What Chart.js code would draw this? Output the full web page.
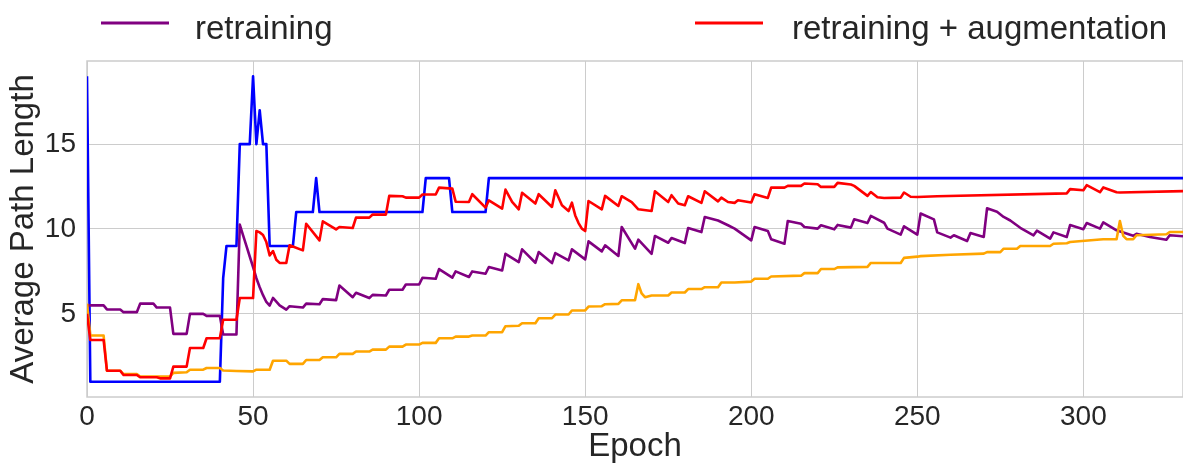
<!DOCTYPE html>
<html>
<head>
<meta charset="utf-8">
<script src="https://cdn.jsdelivr.net/npm/chart.js@4.4.1/dist/chart.umd.min.js"></script>
<style>
html,body{margin:0;padding:0;background:#ffffff;}
#wrap{position:relative;width:1183px;height:470px;}
</style>
</head>
<body>
<div id="wrap"><canvas id="c" width="1183" height="470"></canvas></div>
<script>
// ---- data ----
const xTicks = [0, 50, 100, 150, 200, 250, 300];
const yTicks = [5, 10, 15];
const xTitle = 'Epoch';
const yTitle = 'Average Path Length';

const labelPurple = 'retraining';
const labelRed = 'retraining + augmentation';

const epochsBlue = [0,1,40,41,42,45,46,49,50,51,52,53,54,55,62,63,68,69,70,101,102,109,110,120,121,330];
const valuesBlue = [19,1,1,7.1,9,9,15,15,19,15,17,15,15,9,9,11,11,13,11,11,13,13,11,11,13,13];

const epochsPurple = [0,5,6,10,11,15,16,20,21,25,26,30,31,35,36,40,41,45,46,47,48,49,50,51,52,53,54,55,56,58,60,61,65,66,70,71,75,76,80,81,85,86,90,91,95,96,100,101,105,106,110,111,115,116,120,121,125,126,130,131,135,136,140,141,145,146,150,151,155,156,160,161,165,166,170,171,175,176,180,181,185,186,190,193,195,200,201,205,206,210,211,215,216,220,221,225,226,230,231,235,236,240,241,245,246,250,251,255,256,260,261,265,266,270,271,274,276,278,281,285,286,290,291,295,296,300,301,305,306,310,315,316,320,325,326,330];
const valuesPurple = [5.5,5.5,5.26,5.26,5.1,5.1,5.6,5.6,5.37,5.37,3.82,3.82,5.0,5.0,4.88,4.88,3.78,3.78,10.26,9.63,9.0,8.38,7.76,7.1,6.57,6.1,5.7,5.49,5.94,5.5,5.25,5.45,5.37,5.6,5.57,5.87,5.81,6.67,5.98,6.24,5.93,6.12,6.08,6.42,6.42,6.73,6.73,7.13,7.07,7.64,7.13,7.5,7.17,7.5,7.36,7.76,7.56,8.54,8.05,8.8,8.01,8.64,7.99,8.58,8.15,8.8,8.21,9.27,8.68,9.04,8.41,10.12,8.84,9.37,8.54,9.59,9.19,9.47,9.17,10.06,9.82,10.71,10.5,10.22,10.02,9.33,10.12,9.88,9.39,9.13,10.47,10.31,10.12,10.02,10.22,9.98,10.24,10.08,10.57,10.35,10.77,10.37,10.02,9.67,10.16,9.67,10.91,10.57,9.8,9.49,9.63,9.29,9.76,9.53,11.22,11.02,10.71,10.5,10.07,9.63,9.9,9.43,9.8,9.53,10.23,9.99,10.35,10.02,10.39,9.92,9.6,9.72,9.53,9.37,9.63,9.57];

const epochsOrange = [0,1,5,6,10,11,15,16,25,26,30,31,35,36,40,41,45,50,51,55,56,60,61,65,66,70,71,75,76,80,81,85,86,90,91,95,96,100,101,105,106,110,111,115,116,120,121,125,126,130,131,135,136,140,141,145,146,150,151,155,156,160,161,165,166,167,168,170,175,176,180,181,185,186,190,191,195,200,201,205,206,215,216,220,221,225,226,235,236,245,246,250,251,260,270,271,275,276,280,281,290,291,295,296,305,306,310,311,312,313,315,316,325,326,330];
const valuesOrange = [5.6,3.72,3.72,1.65,1.65,1.45,1.45,1.3,1.3,1.52,1.56,1.71,1.71,1.81,1.81,1.66,1.63,1.61,1.71,1.71,2.24,2.24,2.05,2.05,2.28,2.28,2.44,2.44,2.64,2.64,2.78,2.78,2.89,2.89,3.07,3.07,3.19,3.19,3.29,3.29,3.56,3.56,3.66,3.66,3.72,3.72,3.92,3.92,4.27,4.3,4.45,4.45,4.74,4.74,4.96,4.96,5.2,5.2,5.43,5.45,5.57,5.59,5.8,5.8,6.75,6.2,5.98,6.08,6.08,6.26,6.26,6.46,6.46,6.57,6.57,6.85,6.85,6.9,7.07,7.07,7.2,7.25,7.4,7.4,7.64,7.64,7.74,7.77,8.0,8.0,8.3,8.37,8.4,8.48,8.55,8.64,8.64,8.84,8.84,9.0,9.0,9.13,9.16,9.23,9.38,9.4,9.4,10.47,9.6,9.4,9.4,9.63,9.69,9.82,9.82];

const epochsRed = [0,1,5,6,10,11,15,16,21,22,25,26,30,31,35,36,40,41,45,46,50,51,52,53,54,55,56,57,58,60,61,65,66,70,71,75,76,80,81,85,86,90,91,95,96,100,101,105,106,110,111,115,116,120,121,125,126,128,130,131,135,136,140,141,143,145,146,147,148,149,150,151,155,156,160,161,164,166,170,171,175,176,178,180,181,185,186,190,191,193,195,196,200,201,205,206,210,211,215,216,220,221,225,226,230,231,235,236,238,240,245,246,248,250,256,295,296,300,301,305,306,310,311,330];
const valuesRed = [5.0,3.46,3.46,1.65,1.65,1.4,1.4,1.26,1.26,1.2,1.2,1.89,1.89,2.99,2.99,3.56,3.56,4.65,4.65,5.93,5.93,9.88,9.8,9.65,9.23,8.44,8.7,8.19,8.0,8.0,9.04,8.74,10.31,9.33,10.45,9.98,10.12,10.06,10.67,10.67,10.85,10.85,11.95,11.93,11.85,11.85,12.03,12.03,12.44,12.38,11.61,11.59,12.05,11.26,11.69,11.2,12.32,11.6,11.16,12.13,11.5,12.05,11.3,12.28,11.4,11.06,11.55,10.8,10.35,10.02,9.88,11.65,11.16,11.95,11.36,11.93,11.59,11.16,11.06,12.22,11.59,11.99,11.5,11.4,11.93,11.54,12.22,11.63,11.85,11.59,11.54,11.69,11.56,12.05,11.83,12.44,12.44,12.54,12.54,12.68,12.64,12.48,12.48,12.72,12.62,12.54,11.95,12.18,11.87,11.83,11.85,12.15,11.9,11.89,11.93,12.1,12.35,12.28,12.58,12.17,12.45,12.17,12.15,12.23];

function pairs(xs, ys) { return xs.map((x, i) => ({x: x, y: ys[i]})); }

const FONT = "'Liberation Sans', Arial, sans-serif";
const TEXT = '#262626';
const GRID = '#cccccc';

// legend drawn on canvas at the top (only the labelled series are shown)
const topLegend = {
  id: 'topLegend',
  afterDraw(chart) {
    const ctx = chart.ctx;
    const slots = [{lineX: 101, textX: 195}, {lineX: 695, textX: 792}];
    const shown = chart.data.datasets.filter(d => d.label);
    ctx.save();
    shown.forEach((ds, i) => {
      const s = slots[i];
      ctx.strokeStyle = ds.borderColor;
      ctx.lineWidth = 3;
      ctx.beginPath();
      ctx.moveTo(s.lineX, 23);
      ctx.lineTo(s.lineX + 68, 23);
      ctx.stroke();
      ctx.fillStyle = TEXT;
      ctx.font = '33px ' + FONT;
      ctx.textBaseline = 'alphabetic';
      ctx.textAlign = 'left';
      ctx.fillText(ds.label, s.textX, 39);
    });
    ctx.restore();
  }
};

// light grey frame on all four sides of the plot
const frame = {
  id: 'frame',
  beforeDatasetsDraw(chart) {
    const a = chart.chartArea, ctx = chart.ctx;
    ctx.save();
    ctx.strokeStyle = GRID;
    ctx.lineWidth = 1.5;
    ctx.strokeRect(a.left, a.top, a.right - a.left, a.bottom - a.top);
    ctx.restore();
  }
};

new Chart(document.getElementById('c'), {
  type: 'line',
  data: {
    datasets: [
      {label: '', data: pairs(epochsBlue, valuesBlue), borderColor: '#0000ff', order: 3},
      {label: labelPurple, data: pairs(epochsPurple, valuesPurple), borderColor: '#800080', order: 2},
      {label: '', data: pairs(epochsOrange, valuesOrange), borderColor: '#ffa500', order: 1},
      {label: labelRed, data: pairs(epochsRed, valuesRed), borderColor: '#ff0000', order: 0}
    ]
  },
  options: {
    responsive: false,
    devicePixelRatio: 1,
    animation: false,
    events: [],
    datasets: {
      line: {borderWidth: 2.6, pointRadius: 0, tension: 0, fill: false, borderJoinStyle: 'round', borderCapStyle: 'butt'}
    },
    layout: {padding: {top: 61, right: 0, bottom: 0, left: 0}},
    plugins: {legend: {display: false}, tooltip: {enabled: false}, title: {display: false}},
    scales: {
      x: {
        type: 'linear', min: 0, max: 330,
        afterBuildTicks: s => { s.ticks = xTicks.map(v => ({value: v})); },
        afterFit: s => { s.height = 73; },
        ticks: {color: TEXT, font: {family: FONT, size: 28}, padding: 3, maxRotation: 0, autoSkip: false},
        grid: {color: GRID, lineWidth: 1, drawTicks: false},
        border: {display: false},
        title: {display: true, text: xTitle, color: TEXT, font: {family: FONT, size: 33, lineHeight: 1.2}, padding: {top: 0, bottom: 3.5}}
      },
      y: {
        type: 'linear', min: 0.1, max: 19.9,
        afterBuildTicks: s => { s.ticks = yTicks.map(v => ({value: v})); },
        afterFit: s => { s.width = 87; },
        ticks: {color: TEXT, font: {family: FONT, size: 28}, padding: 11},
        grid: {color: GRID, lineWidth: 1, drawTicks: false},
        border: {display: false},
        title: {display: true, text: yTitle, color: TEXT, font: {family: FONT, size: 33, lineHeight: 1.2}, padding: {top: 4.5, bottom: 0}}
      }
    }
  },
  plugins: [frame, topLegend]
});
</script>
</body>
</html>
